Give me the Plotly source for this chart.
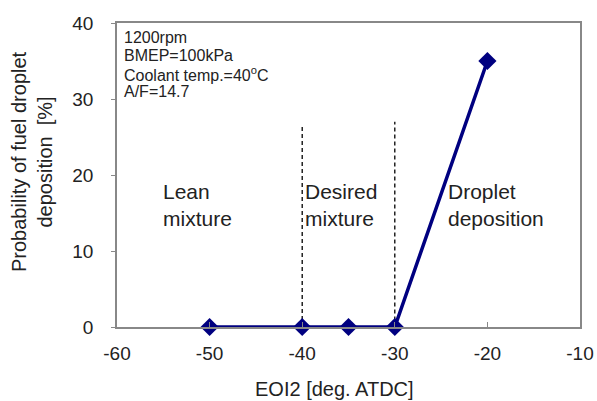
import plotly.graph_objects as go

eoi2 = [-50, -40, -35, -30, -20]
prob = [0, 0, 0, 0, 35]
xticks = [-60, -50, -40, -30, -20, -10]
xtick_text = ["-60", "-50", "-40", "-30", "-20", "-10"]
yticks = [0, 10, 20, 30, 40]
dash_x = [-40, -30]
dash_bottom = [0, -1]
dash_top = [26.4, 27.0]
regions = ["Lean<br>mixture", "Desired<br>mixture", "Droplet<br>deposition"]
region_x = [-55.2, -39.9, -24.5]
region_y = [16.1, 16.1, 16.1]
info_lines = ["1200rpm", "BMEP=100kPa", "Coolant temp.=40<sup>o</sup>C", "A/F=14.7"]

FONT = "Liberation Sans, Arial, sans-serif"
fig = go.Figure()
for xv, y0, y1 in zip(dash_x, dash_bottom, dash_top):
    fig.add_trace(go.Scatter(x=[xv, xv], y=[y0, y1], mode="lines",
                             line=dict(color="black", width=1.3, dash="4px,3px"),
                             showlegend=False, hoverinfo="skip", cliponaxis=False))
fig.add_trace(go.Scatter(x=eoi2, y=prob, mode="lines+markers",
                         line=dict(color="#000080", width=3.5),
                         marker=dict(symbol="diamond", size=14, color="#000080"),
                         showlegend=False, cliponaxis=False))
for t, xv, yv in zip(regions, region_x, region_y):
    fig.add_annotation(x=xv, y=yv, text=t, showarrow=False, xanchor="left",
                       yanchor="middle", align="left",
                       font=dict(family=FONT, size=21, color="#222"))
for i, line in enumerate(info_lines):
    fig.add_annotation(x=0, y=1, xref="paper", yref="paper", xshift=5,
                       yshift=-14 - 18.3 * i,
                       text=line, showarrow=False, xanchor="left", yanchor="middle",
                       align="left", font=dict(family=FONT, size=16, color="#222"))
fig.add_annotation(x=0, y=0.5, xref="paper", yref="paper", xshift=-85, yshift=13,
                   text="Probability of fuel droplet<br>deposition  [%]", textangle=-90,
                   showarrow=False, xanchor="center", yanchor="middle",
                   font=dict(family=FONT, size=20, color="#222"))
fig.add_annotation(x=0.47, y=0, xref="paper", yref="paper", yshift=-62,
                   text="EOI2 [deg. ATDC]", showarrow=False, xanchor="center",
                   yanchor="middle", font=dict(family=FONT, size=20, color="#222"))
fig.update_layout(
    width=597, height=401, margin=dict(l=117, r=17, t=23, b=74),
    plot_bgcolor="white", paper_bgcolor="white",
    font=dict(family=FONT, size=19, color="#222"),
    xaxis=dict(range=[-60, -10], tickvals=xticks, ticktext=xtick_text,
               showgrid=False, zeroline=False, automargin=False,
               showline=True, linecolor="#888", linewidth=1.5, mirror=True,
               ticks="inside", ticklen=5, tickcolor="#888", ticklabelstandoff=8),
    yaxis=dict(range=[0, 40], tickvals=yticks, showgrid=False, zeroline=False,
               automargin=False,
               showline=True, linecolor="#888", linewidth=1.5, mirror=True,
               ticks="outside", ticklen=4, tickcolor="#888", ticklabelstandoff=14),
)
fig.write_html("out.html")
